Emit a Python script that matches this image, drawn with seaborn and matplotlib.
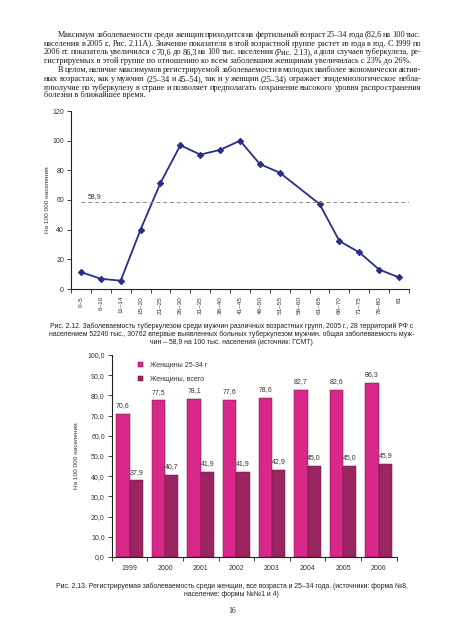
import numpy as np
import pandas as pd
import matplotlib
matplotlib.use("Agg")
import matplotlib.pyplot as plt
import seaborn as sns

# ---------------- data ----------------
age_groups = ["0–5", "6–10", "11–14", "15–20", "21–25", "26–30", "31–35", "36–40",
              "41–45", "46–50", "51–55", "56–60", "61–65", "66–70", "71–75", "76–80", "81"]
male_rate = [11.4, 6.9, 5.6, 40.1, 71.5, 96.9, 90.6, 93.8, 100.0, 84.2, 78.4,
             np.nan, 57.3, 32.3, 24.7, 13.1, 7.8]
male_overall = 58.9
top_yticks = [0, 20, 40, 60, 80, 100, 120]

years = ["1999", "2000", "2001", "2002", "2003", "2004", "2005", "2006"]
women_25_34 = [70.6, 77.5, 78.1, 77.6, 78.6, 82.7, 82.6, 86.3]
women_all = [37.9, 40.7, 41.9, 41.9, 42.9, 45.0, 45.0, 45.9]
series_names = ["Женщины 25-34 г", "Женщины, всего"]
bottom_yticks = [0, 10, 20, 30, 40, 50, 60, 70, 80, 90, 100]

y_label = "На 100 000 населения"

paragraph = [
    "Максимум заболеваемости среди женщин приходится на фертильный возраст 25–34 года (82,6 на 100 тыс.",
    "населения в 2005 г., Рис. 2.11А). Значение показателя в этой возрастной группе растет из года в год. С 1999 по",
    "2006 гг. показатель увеличился с 70,6 до 86,3 на 100 тыс. населения (Рис. 2.13), а доля случаев туберкулеза, ре-",
    "гистрируемых в этой группе по отношению ко всем заболевшим женщинам увеличилась с 23% до 26%.",
    "В целом, наличие максимумов регистрируемой заболеваемости в молодых наиболее экономически актив-",
    "ных возрастах, как у мужчин (25–34 и 45–54), так и у женщин (25–34) отражает эпидемиологическое небла-",
    "гополучие по туберкулезу в стране и позволяет предполагать сохранение высокого уровня распространения",
    "болезни в ближайшее время.",
]
caption1 = [
    "Рис. 2.12. Заболеваемость туберкулезом среди мужчин различных возрастных групп, 2005 г., 28 территорий РФ с",
    "населением 52240 тыс., 30762 впервые выявленных больных туберкулезом мужчин. общая заболеваемость муж-",
    "чин – 58,9 на 100 тыс. населения (источник: ГСМТ)",
]
caption2 = [
    "Рис. 2.13. Регистрируемая заболеваемость среди женщин, все возраста и 25–34 года. (источники: форма №8,",
    "население: формы №№1 и 4)",
]
page_number = "16"

# ---------------- style ----------------
sns.set_style("ticks")
plt.rcParams["font.family"] = ["Liberation Sans", "DejaVu Sans"]
TXT = "#333333"
LINE_C = "#2B2E86"
PINK = "#D8288A"
DARK = "#9A2560"

W, H = 453, 640
fig = plt.figure(figsize=(W / 100, H / 100), dpi=100)
renderer = fig.canvas.get_renderer()


def fx(px):
    return px / W


def fy(py):
    return 1 - py / H


# ---------------- paragraph text ----------------
def put_line(text, x0, x1, ybase, size, family, justify):
    if not justify:
        fig.text(fx(x0), fy(ybase), text, fontsize=size, family=family,
                 va="baseline", ha="left", color="#1a1a1a")
        return
    words = text.split(" ")
    objs = [fig.text(0, 0, w, fontsize=size, family=family, va="baseline",
                     ha="left", color="#1a1a1a") for w in words]
    widths = [o.get_window_extent(renderer).width for o in objs]
    gap = (x1 - x0 - sum(widths)) / max(len(words) - 1, 1)
    x = x0
    for o, wd in zip(objs, widths):
        o.set_position((fx(x), fy(ybase)))
        x += wd + gap


serif = ["Liberation Serif", "DejaVu Serif"]
para_size = 5.95
para_layout = [  # (x0, x1, baseline, justify)
    (58.3, 421, 36.6, True), (44, 421, 45.5, True), (44, 421, 54.4, True),
    (44, 421, 63.2, False), (58.3, 421, 71.9, True), (44, 421, 80.7, True),
    (44, 421, 89.5, True), (44, 421, 97.0, False),
]
for line, (x0, x1, yb, j) in zip(paragraph, para_layout):
    put_line(line, x0, x1, yb, para_size, serif, j)

# ---------------- top chart: line ----------------
ax1 = fig.add_axes([fx(71), fy(289), fx(409) - fx(71), (289 - 111) / H])
df_line = pd.DataFrame({"pos": np.arange(len(age_groups)), "age": age_groups,
                        "rate": male_rate}).dropna()
sns.lineplot(data=df_line, x="pos", y="rate", ax=ax1, color=LINE_C, lw=1.3,
             marker="D", markersize=3.2, markeredgecolor=LINE_C, sort=False)
ax1.hlines(male_overall, 0, len(age_groups) - 0.5, colors="#8a8a8a",
           linestyles=(0, (4, 3)), lw=0.7)
ax1.text(0.7, male_overall + 1.2, f"{male_overall:.1f}".replace(".", ","),
         fontsize=5, color=TXT, ha="center", va="bottom")
ax1.set_xlim(-0.5, len(age_groups) - 0.5)
ax1.set_ylim(0, 120)
ax1.set_yticks(top_yticks)
ax1.set_yticklabels([str(v) for v in top_yticks], fontsize=5, color=TXT)
ax1.set_xticks(np.arange(len(age_groups)))
ax1.set_xticklabels(age_groups, rotation=90, fontsize=4.6, color=TXT, va="top")
ax1.set_xticks(np.arange(len(age_groups) + 1) - 0.5, minor=True)
ax1.tick_params(axis="x", which="major", length=0, pad=5)
ax1.tick_params(axis="x", which="minor", length=3, width=0.6, color="#222222")
ax1.tick_params(axis="y", length=3, width=0.6, pad=2, color="#222222")
ax1.set_xlabel("")
ax1.set_ylabel(y_label, fontsize=4.6, color=TXT, labelpad=2)
for s in ["left", "bottom"]:
    ax1.spines[s].set_linewidth(0.8)
    ax1.spines[s].set_color("#222222")
sns.despine(ax=ax1)

# ---------------- captions ----------------
sans = ["Liberation Sans", "DejaVu Sans"]
cap_size = 4.95
for line, yb in zip(caption1, [328.2, 336.3, 344.0]):
    fig.text(fx(231.5), fy(yb), line, fontsize=cap_size, family=sans,
             ha="center", va="baseline", color="#222222")
for line, yb in zip(caption2, [588.2, 596.3]):
    fig.text(fx(231.5), fy(yb), line, fontsize=cap_size, family=sans,
             ha="center", va="baseline", color="#222222")
fig.text(fx(232), fy(613), page_number, fontsize=5.5, family=serif,
         ha="center", va="baseline", color="#222222")

# ---------------- bottom chart: bars ----------------
ax2 = fig.add_axes([fx(111.7), fy(557), fx(396.5) - fx(111.7), (557 - 355) / H])
df_bar = pd.DataFrame({
    "year": years * 2,
    "value": women_25_34 + women_all,
    "series": [series_names[0]] * len(years) + [series_names[1]] * len(years),
})
sns.barplot(data=df_bar, x="year", y="value", hue="series", order=years,
            hue_order=series_names, palette=[PINK, DARK], width=0.75,
            edgecolor="#6a1840", linewidth=0.35, ax=ax2, saturation=1)
for cont in ax2.containers:
    vals = [b.get_height() for b in cont]
    ax2.bar_label(cont, labels=[f"{v:.1f}".replace(".", ",") for v in vals],
                  padding=3.5, fontsize=5, color=TXT)
ax2.set_ylim(0, 100)
ax2.set_xlim(-0.5, len(years) - 0.5)
ax2.set_yticks(bottom_yticks)
ax2.set_yticklabels([f"{v:.1f}".replace(".", ",") for v in bottom_yticks],
                    fontsize=5, color=TXT)
ax2.set_xticks(np.arange(len(years)))
ax2.set_xticklabels(years, fontsize=5, color=TXT)
ax2.set_xticks(np.arange(len(years) + 1) - 0.5, minor=True)
ax2.tick_params(axis="x", which="major", length=0, pad=6)
ax2.tick_params(axis="x", which="minor", length=3, width=0.6, color="#222222")
ax2.tick_params(axis="y", length=3, width=0.6, pad=2, color="#222222")
ax2.set_xlabel("")
ax2.set_ylabel(y_label, fontsize=4.6, color=TXT, labelpad=6)
for s in ["left", "bottom"]:
    ax2.spines[s].set_linewidth(0.8)
    ax2.spines[s].set_color("#222222")
sns.despine(ax=ax2)
handles, labels = ax2.get_legend_handles_labels()
ax2.legend(handles, labels, loc="upper left", bbox_to_anchor=(0.093, 0.965),
           frameon=False, fontsize=5, handlelength=0.75, handleheight=0.75,
           handletextpad=0.9, borderpad=0, borderaxespad=0, labelspacing=0.95,
           labelcolor=TXT)

fig.savefig("out.png", dpi=100)
